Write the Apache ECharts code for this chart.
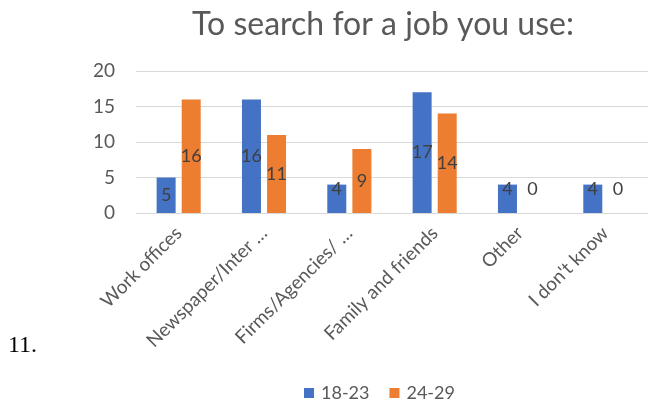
<!DOCTYPE html>
<html>
<head>
<meta charset="utf-8">
<script src="https://cdn.jsdelivr.net/npm/echarts@6/dist/echarts.min.js"></script>
<style>
  html, body { margin: 0; padding: 0; background: #fff; }
  #chart { width: 654px; height: 409px; }
</style>
</head>
<body>
<div id="chart"></div>
<script>
// Job search channels by age group
const categories = ['Work offices', 'Newspaper/Inter …', 'Firms/Agencies/ …', 'Family and friends', 'Other', "I don't know"];
const age18to23 = [5, 16, 4, 17, 4, 4];
const age24to29 = [16, 11, 9, 14, 0, 0];
const seriesNames = ['18-23', '24-29'];
const yTicks = [0, 5, 10, 15, 20];

const FONT = 'Lato';

// Small bars get their value written near the base instead of centred
function withLabels(values) {
  return values.map(v => v > 4
    ? { value: v }
    : { value: v, label: { position: 'insideBottom', distance: 15 } });
}

const chart = echarts.init(document.getElementById('chart'), null, { renderer: 'canvas' });
chart.setOption({
  animation: false,
  title: {
    text: 'To search for a job you use:',
    left: 378,
    textAlign: 'center',
    top: 4,
    textStyle: { fontFamily: FONT, fontSize: 32, fontWeight: 'normal', color: '#595959' }
  },
  graphic: [{
    type: 'text',
    left: 8,
    top: 334,
    style: { text: '11.', font: '24px "Liberation Serif"', fill: '#000' }
  }],
  legend: {
    data: seriesNames,
    bottom: 2,
    left: 299,
    itemWidth: 10,
    itemHeight: 10,
    itemGap: 20,
    icon: 'rect',
    textStyle: { fontFamily: FONT, fontSize: 18, color: '#595959', padding: [0, 0, 0, 2] }
  },
  grid: { left: 136, right: 6, top: 71, bottom: 196, containLabel: false },
  xAxis: {
    type: 'category',
    data: categories,
    axisLine: { show: true, lineStyle: { color: '#d9d9d9', width: 1 } },
    axisTick: { show: false },
    axisLabel: { rotate: 45, interval: 0, margin: 17, fontFamily: FONT, fontSize: 19, color: '#595959' }
  },
  yAxis: {
    type: 'value',
    min: yTicks[0],
    max: yTicks[yTicks.length - 1],
    interval: 5,
    axisLine: { show: false },
    axisTick: { show: false },
    splitLine: { lineStyle: { color: '#d9d9d9', width: 1 } },
    axisLabel: { margin: 21, fontFamily: FONT, fontSize: 19, color: '#595959' }
  },
  series: [
    {
      name: seriesNames[0],
      type: 'bar',
      data: withLabels(age18to23),
      barWidth: 19,
      barGap: '32%',
      itemStyle: { color: '#4472C4' },
      label: { show: true, position: 'inside', fontFamily: FONT, fontSize: 18, color: '#404040' }
    },
    {
      name: seriesNames[1],
      type: 'bar',
      data: withLabels(age24to29),
      barWidth: 19,
      itemStyle: { color: '#ED7D31' },
      label: { show: true, position: 'inside', fontFamily: FONT, fontSize: 18, color: '#404040' }
    }
  ]
});
</script>
</body>
</html>
